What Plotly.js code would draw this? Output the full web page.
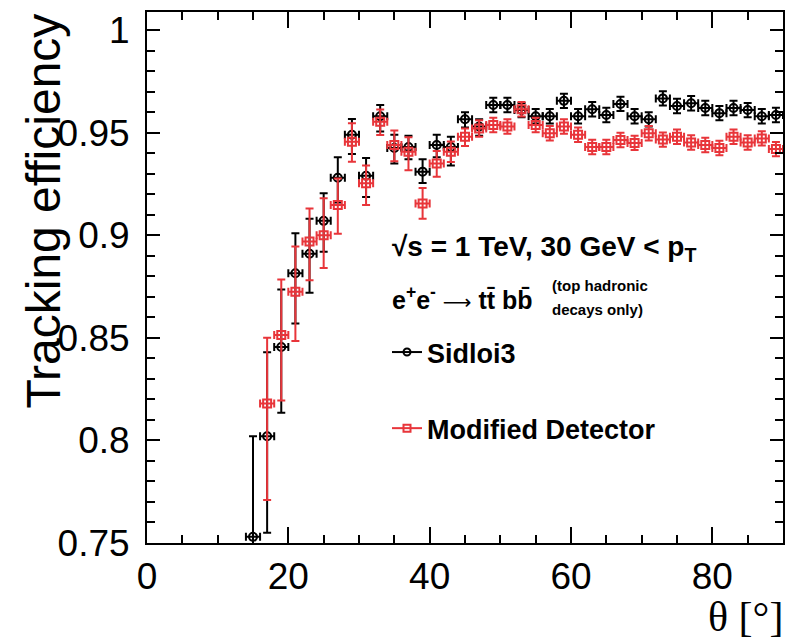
<!DOCTYPE html>
<html>
<head>
<meta charset="utf-8">
<script src="https://cdn.plot.ly/plotly-3.0.1.min.js"></script>
<style>html,body{margin:0;padding:0;background:#fff;}#plot{width:790px;height:642px;}</style>
</head>
<body>
<div id="plot"></div>
<script>
// Sidloi3 (black circles)
const thetaSid = [15,17,19,21,23,25,27,29,31,33,35,37,39,41,43,45,47,49,51,53,55,57,59,61,63,65,67,69,71,73,75,77,79,81,83,85,87,89];
const effSid = [0.753,0.802,0.8455,0.8815,0.891,0.907,0.928,0.949,0.929,0.958,0.9425,0.943,0.931,0.944,0.943,0.9565,0.953,0.9635,0.9635,0.961,0.958,0.958,0.9655,0.958,0.9614,0.9586,0.964,0.958,0.9565,0.9667,0.963,0.9643,0.962,0.9595,0.962,0.961,0.958,0.9586];
const errSidUp = [0.049,0.041,0.028,0.0195,0.017,0.0135,0.010,0.0076,0.0086,0.0055,0.0065,0.0055,0.006,0.005,0.005,0.0035,0.0035,0.0035,0.0035,0.0035,0.0035,0.0035,0.0035,0.0035,0.0035,0.0035,0.0035,0.0035,0.0035,0.0035,0.0035,0.0035,0.0035,0.0035,0.0035,0.0035,0.0035,0.0035];
const errSidDown = [0.04,0.047,0.032,0.0245,0.019,0.015,0.012,0.0094,0.0104,0.0075,0.0075,0.006,0.0056,0.006,0.009,0.004,0.0045,0.0035,0.0035,0.0035,0.0035,0.0035,0.0035,0.0035,0.0035,0.0035,0.0035,0.0035,0.0035,0.0035,0.0035,0.0035,0.0035,0.0035,0.0035,0.0035,0.0035,0.0035];

// Modified Detector (red squares)
const thetaMod = [17,19,21,23,25,27,29,31,33,35,37,39,41,43,45,47,49,51,53,55,57,59,61,63,65,67,69,71,73,75,77,79,81,83,85,87,89];
const effMod = [0.818,0.8514,0.8725,0.897,0.900,0.9147,0.9456,0.9253,0.9553,0.944,0.9407,0.9155,0.935,0.9407,0.948,0.952,0.9537,0.953,0.9614,0.9537,0.9497,0.953,0.949,0.943,0.943,0.9464,0.945,0.9497,0.9466,0.948,0.9452,0.944,0.9425,0.948,0.9452,0.9472,0.942];
const errModUp = [0.032,0.027,0.022,0.016,0.018,0.013,0.009,0.0087,0.006,0.007,0.007,0.0075,0.006,0.005,0.004,0.004,0.0035,0.0035,0.0035,0.0035,0.0035,0.0035,0.0035,0.0035,0.0035,0.0035,0.0035,0.0035,0.0035,0.0035,0.0035,0.0035,0.0035,0.0035,0.0035,0.0035,0.0035];
const errModDown = [0.047,0.032,0.024,0.019,0.016,0.014,0.0098,0.0106,0.0065,0.008,0.009,0.0075,0.0065,0.005,0.0045,0.004,0.0035,0.0035,0.0035,0.0035,0.0035,0.0035,0.0035,0.0035,0.0035,0.0035,0.0035,0.0035,0.0035,0.0035,0.0035,0.0035,0.0035,0.0035,0.0035,0.0035,0.0035];

const binHalfWidth = 1;
const seriesNames = ['Sidloi3', 'Modified Detector'];
const xTickVals = [0,20,40,60,80];
const yTickVals = [0.75,0.8,0.85,0.9,0.95,1];

const BLACK = '#000000';
const RED = '#e8353a';
const FONT = 'Liberation Sans, Arial, Helvetica, sans-serif';

function dataTrace(x, y, up, down, color, symbol, name) {
  return {
    type: 'scatter', mode: 'markers', x: x, y: y, name: name, showlegend: false,
    marker: {symbol: symbol, size: 8, color: color, line: {color: color, width: 2}},
    error_y: {type: 'data', symmetric: false, array: up, arrayminus: down, color: color, thickness: 2, width: 4},
    error_x: {type: 'constant', value: binHalfWidth, color: color, thickness: 2, width: 4},
    cliponaxis: true
  };
}
function legendTrace(color, symbol, name, group) {
  return {
    type: 'scatter', mode: 'lines+markers', x: [null], y: [null], name: name, legendgroup: group,
    marker: {symbol: symbol, size: 7, color: color, line: {color: color, width: 2}},
    line: {color: color, width: 2}
  };
}

const traces = [
  dataTrace(thetaSid, effSid, errSidUp, errSidDown, BLACK, 'circle-open', seriesNames[0]),
  dataTrace(thetaMod, effMod, errModUp, errModDown, RED, 'square-open', seriesNames[1]),
  legendTrace(BLACK, 'circle-open', seriesNames[0], 'g1'),
  legendTrace(RED, 'square-open', seriesNames[1], 'g2')
];

const L = 147, R = 7, T = 12, B = 99;
const W = 790, H = 642;
const pw = W - L - R, ph = H - T - B;
function px(xp) { return (xp - L) / pw; }
function py(yp) { return (H - B - yp) / ph; }

const layout = {
  width: W, height: H,
  margin: {l: L, r: R, t: T, b: B, pad: 0},
  paper_bgcolor: '#ffffff', plot_bgcolor: '#ffffff',
  font: {family: FONT, color: '#000'},
  showlegend: true,
  legend: {
    x: px(387), y: py(328), xanchor: 'left', yanchor: 'top',
    bgcolor: 'rgba(0,0,0,0)', borderwidth: 0,
    font: {family: FONT, size: 27, color: '#000', weight: 'bold'},
    traceorder: 'grouped', tracegroupgap: 38, itemwidth: 30
  },
  xaxis: {
    range: [0, 90], tickvals: xTickVals, ticks: 'inside', ticklen: 16, tickwidth: 2, tickcolor: '#000',
    showline: true, linewidth: 2, linecolor: '#000', mirror: 'allticks',
    showgrid: false, zeroline: false,
    tickfont: {family: FONT, size: 37, color: '#000'},
    ticklabelstandoff: 0,
    minor: {dtick: 5, tick0: 0, ticks: 'inside', ticklen: 8, tickwidth: 2, tickcolor: '#000', showgrid: false}
  },
  yaxis: {
    range: [0.75, 1.0088], tickvals: yTickVals, ticks: 'inside', ticklen: 13, tickwidth: 2, tickcolor: '#000',
    showline: true, linewidth: 2, linecolor: '#000', mirror: 'allticks',
    showgrid: false, zeroline: false,
    tickfont: {family: FONT, size: 37, color: '#000'},
    ticklabelstandoff: 8,
    minor: {dtick: 0.01, tick0: 0.75, ticks: 'inside', ticklen: 8, tickwidth: 2, tickcolor: '#000', showgrid: false}
  },
  annotations: [
    {xref: 'paper', yref: 'paper', x: px(43), y: py(12), xanchor: 'center', yanchor: 'top', textangle: -90,
     text: 'Tracking efficiency', showarrow: false, font: {family: FONT, size: 48, color: '#000'}},
    {xref: 'paper', yref: 'paper', x: px(785), y: py(617), xanchor: 'right', yanchor: 'middle',
     text: 'θ [°]', showarrow: false,
     font: {family: 'Liberation Serif, Times New Roman, serif', size: 42, color: '#000'}},
    {xref: 'paper', yref: 'paper', x: px(390), y: py(248), xanchor: 'left', yanchor: 'middle',
     text: '<b>√s = 1 TeV, 30 GeV &lt; p<sub>T</sub></b>', showarrow: false,
     font: {family: FONT, size: 28, color: '#000'}},
    {xref: 'paper', yref: 'paper', x: px(390), y: py(298), xanchor: 'left', yanchor: 'middle',
     text: '<b>e<sup>+</sup>e<sup>-</sup></b> <span style="font-family:DejaVu Sans;font-size:20px">⟶</span> <b>tt\u0304 bb\u0304</b>', showarrow: false,
     font: {family: FONT, size: 25, color: '#000'}},
    {xref: 'paper', yref: 'paper', x: px(550), y: py(285), xanchor: 'left', yanchor: 'middle',
     text: '<b>(top hadronic</b>', showarrow: false,
     font: {family: FONT, size: 15, color: '#000'}},
    {xref: 'paper', yref: 'paper', x: px(550), y: py(309), xanchor: 'left', yanchor: 'middle',
     text: '<b>decays only)</b>', showarrow: false,
     font: {family: FONT, size: 15, color: '#000'}}
  ]
};

Plotly.newPlot('plot', traces, layout, {staticPlot: true, displayModeBar: false});
</script>
</body>
</html>
